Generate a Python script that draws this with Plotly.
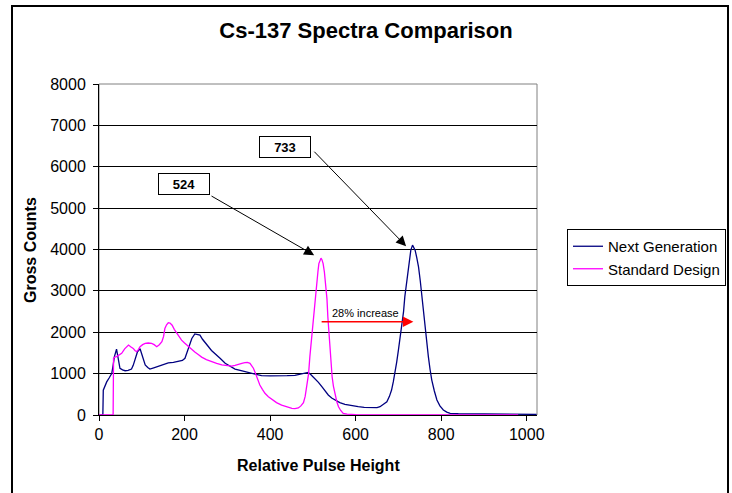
import plotly.graph_objects as go

# ---- data ----
next_gen_ch = [0, 9, 10, 14, 18, 24, 30, 33, 36, 41, 45, 49, 55, 61, 68, 76, 80, 84, 90, 96,
               102, 108, 114, 119, 128, 139, 150, 162, 174, 185, 195, 201, 205, 209, 213, 217,
               224, 230, 236, 242, 248, 256, 263, 271, 283, 295, 307, 318, 330, 341, 353, 365,
               380, 400, 419, 440, 458, 470, 482, 489, 495, 505, 513, 521, 528, 536, 544, 552,
               563, 575, 590, 606, 620, 637, 650, 657, 665, 673, 679, 684, 688, 692, 696, 700,
               704, 708, 712, 715, 719, 723, 726, 729, 733, 736, 739, 743, 747, 751, 754, 758,
               762, 766, 770, 774, 778, 784, 790, 797, 805, 813, 821, 840, 870, 900, 940, 980, 1023]
next_gen_counts = [0, 0, 600, 700, 800, 900, 1010, 1200, 1410, 1590, 1300, 1130, 1090, 1070, 1080,
                   1110, 1200, 1330, 1530, 1600, 1400, 1210, 1150, 1110, 1140, 1180, 1220, 1260,
                   1270, 1290, 1320, 1370, 1500, 1650, 1750, 1850, 1960, 1950, 1930, 1830, 1740,
                   1650, 1560, 1490, 1370, 1250, 1170, 1110, 1080, 1050, 1020, 990, 950, 945, 940,
                   950, 960, 985, 1005, 1030, 980, 885, 790, 685, 580, 483, 410, 362, 300, 258, 225,
                   200, 185, 176, 180, 200, 250, 321, 450, 604, 800, 1007, 1280, 1570, 1850, 2130,
                   2500, 2860, 3220, 3580, 3800, 3985, 4105, 4060, 3985, 3800, 3580, 3250, 2940,
                   2530, 2130, 1750, 1410, 1100, 845, 580, 362, 220, 121, 70, 41, 30, 25, 25, 20, 20, 15]

std_ch = [0, 33, 34, 37, 41, 47, 53, 60, 65, 69, 74, 80, 84, 88, 92, 96, 102, 108, 115, 123,
          129, 135, 141, 147, 151, 154, 158, 162, 166, 171, 176, 182, 187, 193, 200, 209, 216,
          224, 232, 240, 251, 263, 275, 287, 298, 310, 318, 326, 334, 341, 347, 353, 357, 361,
          365, 369, 372, 376, 382, 388, 396, 404, 415, 427, 439, 451, 458, 466, 472, 478, 482,
          486, 490, 493, 497, 501, 505, 509, 512, 514, 517, 519, 521, 524, 527, 530, 533, 535,
          538, 540, 543, 545, 548, 552, 556, 560, 565, 571, 580, 600, 700, 800, 900, 980]
std_counts = [0, 0, 1370, 1400, 1410, 1450, 1490, 1600, 1660, 1690, 1650, 1610, 1560, 1530, 1580,
              1650, 1700, 1730, 1740, 1730, 1700, 1650, 1700, 1770, 1900, 2090, 2180, 2230, 2220,
              2170, 2070, 1970, 1890, 1810, 1740, 1650, 1580, 1520, 1460, 1400, 1340, 1290, 1250,
              1210, 1190, 1180, 1200, 1230, 1250, 1265, 1270, 1250, 1200, 1130, 1030, 925, 830,
              725, 620, 524, 440, 379, 300, 241, 195, 161, 155, 170, 220, 300, 450, 685, 1000,
              1410, 1880, 2375, 2800, 3180, 3480, 3660, 3760, 3790, 3760, 3660, 3450, 3180, 2800,
              2375, 1950, 1570, 1200, 925, 700, 483, 320, 200, 110, 40, 20, 10, 5, 5, 5, 5]

x_ticks = [0, 200, 400, 600, 800, 1000]
y_ticks = [0, 1000, 2000, 3000, 4000, 5000, 6000, 7000, 8000]

FONT = "Liberation Sans, Arial, sans-serif"

# plot-area pixel geometry (for paper-coordinate helpers)
L, R, T, B = 99, 537, 84, 415
W, H = 732, 493
def px(x):
    return (x - L) / (R - L)
def py(y):
    return (B - y) / (B - T)

fig = go.Figure()
fig.add_trace(go.Scatter(x=next_gen_ch, y=next_gen_counts, mode="lines",
                         name="Next Generation", line=dict(color="#000080", width=1.3)))
fig.add_trace(go.Scatter(x=std_ch, y=std_counts, mode="lines",
                         name="Standard Design", line=dict(color="#FF00FF", width=1.3)))

fig.update_layout(
    width=W, height=H,
    margin=dict(l=L, r=W - R, t=T, b=H - B, autoexpand=False),
    paper_bgcolor="white", plot_bgcolor="white",
    font=dict(family=FONT, size=16, color="black"),
    title=dict(text="<b>Cs-137 Spectra Comparison</b>", x=0.5, xref="container",
               xanchor="center", y=1 - 30 / H, yref="container", yanchor="middle",
               font=dict(family=FONT, size=22, color="black")),
    showlegend=True,
    legend=dict(x=567 / W, y=1 - 229 / H, xref="container", yref="container",
                xanchor="left", yanchor="top",
                bordercolor="black", borderwidth=1, bgcolor="white",
                font=dict(family=FONT, size=15, color="black")),
    xaxis=dict(range=[0, 1024], tickvals=x_ticks, ticktext=[str(v) for v in x_ticks],
               showgrid=False, zeroline=False, showline=True, linecolor="black", linewidth=1,
               ticks="outside", ticklen=5, tickcolor="black", automargin=False,
               tickfont=dict(family=FONT, size=16, color="black")),
    yaxis=dict(range=[0, 8000], tickvals=y_ticks, ticktext=[str(v) for v in y_ticks],
               showgrid=True, gridcolor="black", gridwidth=1, zeroline=False,
               showline=True, linecolor="black", linewidth=1, automargin=False,
               ticks="outside", ticklen=5, tickcolor="black", ticklabelstandoff=4,
               tickfont=dict(family=FONT, size=16, color="black")),
    shapes=[
        dict(type="rect", xref="paper", yref="paper", x0=0, x1=1, y0=0, y1=1,
             line=dict(color="#808080", width=1), layer="below"),
        dict(type="rect", xref="paper", yref="paper", x0=px(12), x1=px(728),
             y0=py(510), y1=py(6), line=dict(color="black", width=2)),
    ],
    annotations=[
        dict(text="<b>Relative Pulse Height</b>", xref="paper", yref="paper",
             x=px(318), y=py(465), xanchor="center", yanchor="middle", showarrow=False,
             font=dict(family=FONT, size=16, color="black")),
        dict(text="<b>Gross Counts</b>", xref="paper", yref="paper", textangle=-90,
             x=px(30), y=py(250), xanchor="center", yanchor="middle", showarrow=False,
             font=dict(family=FONT, size=16, color="black")),
        # arrows
        dict(x=503, y=3864, ax=259.5, ay=5313, xref="x", yref="y", axref="x", ayref="y",
             text="", showarrow=True, arrowhead=2, arrowsize=2, arrowwidth=1, arrowcolor="black"),
        dict(x=718, y=4081, ax=500, ay=6400, xref="x", yref="y", axref="x", ayref="y",
             text="", showarrow=True, arrowhead=2, arrowsize=2, arrowwidth=1, arrowcolor="black"),
        dict(x=735, y=2253, ax=517, ay=2253, xref="x", yref="y", axref="x", ayref="y",
             text="", showarrow=True, arrowhead=2, arrowsize=1.4, arrowwidth=1.5, arrowcolor="red"),
        # label boxes
        dict(text="<b>524</b>", x=198, y=5582, xref="x", yref="y", showarrow=False,
             width=50, height=20, borderpad=0, bordercolor="black", borderwidth=1, bgcolor="white",
             font=dict(family=FONT, size=13, color="black")),
        dict(text="<b>733</b>", x=436, y=6485, xref="x", yref="y", showarrow=False,
             width=50, height=20, borderpad=0, bordercolor="black", borderwidth=1, bgcolor="white",
             font=dict(family=FONT, size=13, color="black")),
        dict(text="28% increase", x=624, y=2470, xref="x", yref="y", showarrow=False,
             font=dict(family=FONT, size=11, color="black")),
    ],
)

fig.write_html("out.html", config={"displayModeBar": False},
               post_script="document.body.style.margin='0';")
